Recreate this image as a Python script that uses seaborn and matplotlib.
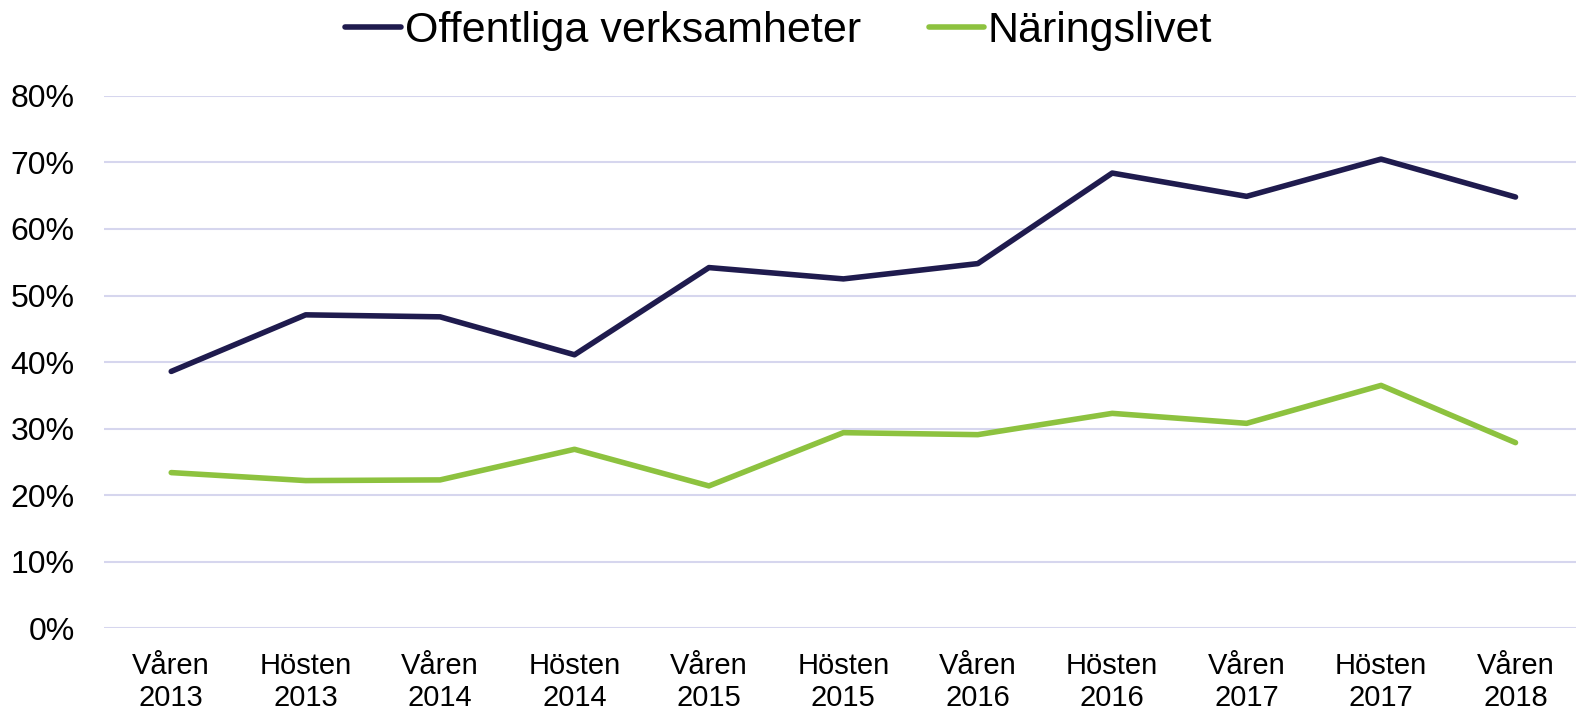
import seaborn as sns
import matplotlib.pyplot as plt
import pandas as pd
from matplotlib.ticker import FuncFormatter

periods = ['Våren\n2013', 'Hösten\n2013', 'Våren\n2014', 'Hösten\n2014', 'Våren\n2015',
           'Hösten\n2015', 'Våren\n2016', 'Hösten\n2016', 'Våren\n2017', 'Hösten\n2017',
           'Våren\n2018']
offentliga = [0.386, 0.471, 0.468, 0.411, 0.542, 0.525, 0.548, 0.684, 0.649, 0.705, 0.648]
naringslivet = [0.234, 0.222, 0.223, 0.269, 0.214, 0.294, 0.291, 0.323, 0.308, 0.365, 0.279]

df = pd.DataFrame({
    'Period': periods * 2,
    'Andel': offentliga + naringslivet,
    'Sektor': ['Offentliga verksamheter'] * len(periods) + ['Näringslivet'] * len(periods),
})

sns.set_style("white")
plt.rcParams['font.family'] = ['Liberation Sans', 'DejaVu Sans']
plt.rcParams['text.color'] = 'black'
plt.rcParams['xtick.color'] = 'black'
plt.rcParams['ytick.color'] = 'black'

fig = plt.figure(figsize=(15.76, 7.10), dpi=100)
ax = fig.add_axes([0.066, 0.115, 0.934, 0.75])
sns.lineplot(data=df, x='Period', y='Andel', hue='Sektor', sort=False,
             palette=['#1f1b4e', '#8dc23f'], linewidth=4, ax=ax)

ax.set_ylim(0, 0.8)
ax.set_xlim(-0.5, 10.45)
ax.set_yticks([i / 10 for i in range(9)])
ax.yaxis.set_major_formatter(FuncFormatter(lambda x, pos: f'{x*100:.0f}%'))
ax.yaxis.grid(True, color='#d6d6ee', linewidth=1.5)
ax.set_axisbelow(True)
for s in ax.spines.values():
    s.set_visible(False)
ax.tick_params(axis='x', labelsize=21, length=0, pad=17)
ax.tick_params(axis='y', labelsize=23, length=0, pad=21)
ax.set_xlabel('')
ax.set_ylabel('')

leg = ax.legend(loc='lower center', bbox_to_anchor=(0.4585, 1.0), ncol=2, frameon=False,
                prop={'family': ['Liberation Sans Narrow', 'Liberation Sans'], 'size': 31},
                handlelength=1.28, handletextpad=0.1, columnspacing=1.57, borderaxespad=0.65)
for line in leg.get_lines():
    line.set_linewidth(4)

fig.savefig('out.png', dpi=100)
